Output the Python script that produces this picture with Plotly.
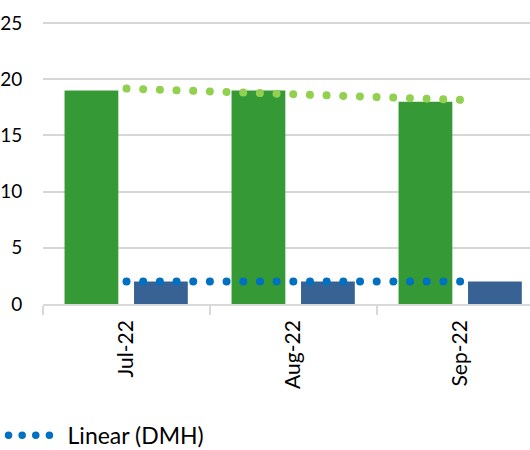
import plotly.graph_objects as go

months = ["Jul-22", "Aug-22", "Sep-22"]
green_vals = [19, 19, 18]
blue_vals = [2, 2, 2]
green_trend = [19.17, 18.67, 18.17]
blue_trend = [2, 2, 2]
y_ticks = [0, 5, 10, 15, 20, 25]

fig = go.Figure()
fig.add_trace(go.Bar(x=months, y=green_vals, marker=dict(color="#359A35", line=dict(width=0)),
                     width=0.322, offset=-0.371, showlegend=False))
fig.add_trace(go.Bar(x=months, y=blue_vals, marker=dict(color="#386293", line=dict(width=0)),
                     width=0.322, offset=0.045, showlegend=False))
fig.add_trace(go.Scatter(x=months, y=green_trend, mode="lines",
                         line=dict(color="#92D050", width=8, dash="0.01px,16.67px"),
                         showlegend=False))
fig.add_trace(go.Scatter(x=months, y=blue_trend, mode="lines",
                         line=dict(color="#0070C0", width=8, dash="0.01px,16.67px"),
                         showlegend=False))
fig.add_trace(go.Scatter(x=[None], y=[None], mode="lines", name="Linear (DMH)",
                         line=dict(color="#0070C0", width=7,
                                   dash="0.01px,13.6px,0.01px,13.6px,0.01px,13.6px,0.01px,40px"),
                         showlegend=True))

fig.update_layout(
    template="none",
    width=530, height=450,
    margin=dict(l=43, r=0, t=22, b=146, pad=0, autoexpand=False),
    plot_bgcolor="white", paper_bgcolor="white",
    font=dict(family="Lato", color="#000000", size=20),
    barmode="group",
    showlegend=True,
    legend=dict(orientation="h", x=-0.081, xanchor="left", y=-0.466, yanchor="middle",
                font=dict(size=23), itemwidth=54, bgcolor="rgba(0,0,0,0)"),
)
fig.update_xaxes(range=[-0.5, 2.416], tickson="boundaries", ticks="outside", ticklen=9,
                 tickcolor="#D9D9D9", tickwidth=1.5, showline=True, linecolor="#D9D9D9",
                 linewidth=1.5, showgrid=False, tickangle=-90, ticklabelstandoff=6,
                 automargin=False, tickfont=dict(size=21))
fig.update_yaxes(range=[0, 25.1], tickmode="array", tickvals=y_ticks, showgrid=True,
                 gridcolor="#D6D6D6", gridwidth=2, zeroline=False, showline=False,
                 ticks="outside", ticklen=16, tickcolor="rgba(0,0,0,0)", automargin=False,
                 tickfont=dict(size=19))

post = """
var gd = document.getElementById('{plot_id}');
gd.querySelectorAll('.scatterlayer .js-line').forEach(function(p){
  p.style.strokeLinecap = 'round';
});
gd.querySelectorAll('.legendlines path').forEach(function(p){
  p.style.strokeLinecap = 'round';
  p.style.strokeWidth = '7.5px';
});
"""
html = fig.to_html(full_html=True, include_plotlyjs=True, post_script=post,
                   config={"displayModeBar": False})
html = html.replace("<head>", "<head><style>html,body{margin:0;padding:0;overflow:hidden;}</style>", 1)
with open("out.html", "w", encoding="utf-8") as f:
    f.write(html)
